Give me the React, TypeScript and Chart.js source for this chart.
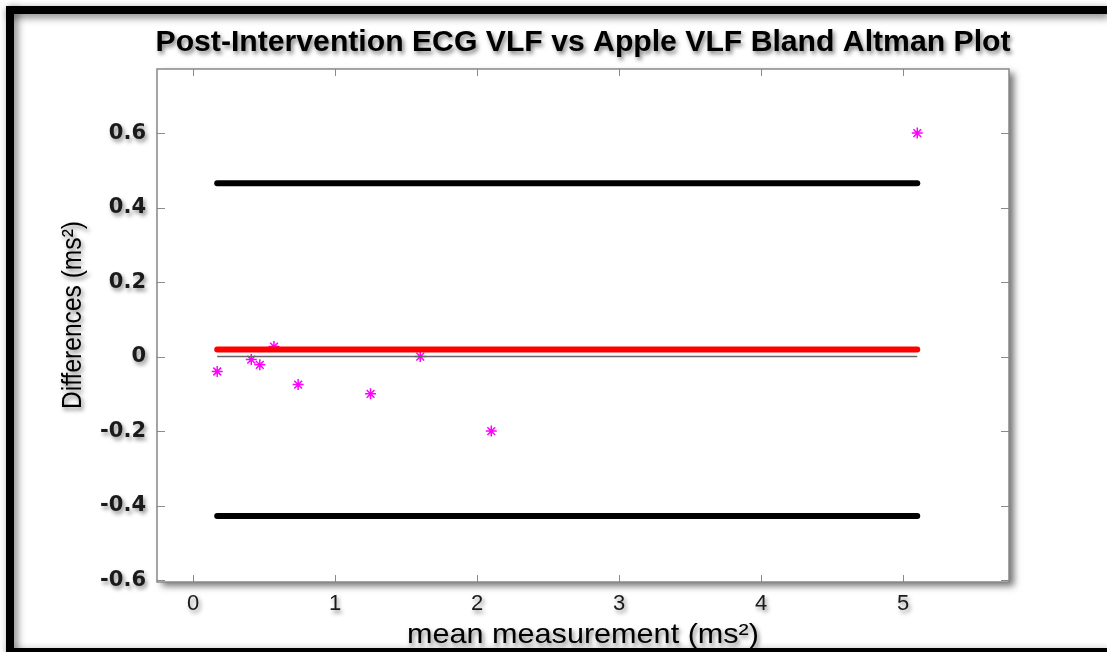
import { useEffect, useRef } from "react";
import { Chart, registerables } from "chart.js";

Chart.register(...registerables);

const W = 1107;
const H = 652;

const titleText = "Post-Intervention ECG VLF vs Apple VLF Bland Altman Plot";
const xAxisTitle = "mean measurement (ms²)";
const yAxisTitle = "Differences (ms²)";

// Bland-Altman points: mean of the two measurements and their difference
const meanValues = [0.17, 0.41, 0.47, 0.57, 0.74, 1.25, 1.6, 2.1, 5.1];
const diffValues = [-0.04, -0.008, -0.022, 0.027, -0.075, -0.1, 0.0, -0.2, 0.6];

// Reference lines (span from smallest to largest mean)
const lineSpan = [0.17, 5.1];
const meanDifference = 0.019;
const upperLimit = 0.465;
const lowerLimit = -0.428;
const zeroLevel = 0;

const xTicks = [0, 1, 2, 3, 4, 5];
const yTicks = [-0.6, -0.4, -0.2, 0, 0.2, 0.4, 0.6];
const xLimits = [-0.254, 5.746];
const yLimits = [-0.605, 0.772];

function fittedText(
  ctx: CanvasRenderingContext2D,
  text: string,
  x: number,
  y: number,
  font: string,
  width: number,
  rotate: boolean
) {
  ctx.save();
  ctx.font = font;
  const w = ctx.measureText(text).width;
  ctx.translate(x, y);
  if (rotate) ctx.rotate(-Math.PI / 2);
  ctx.scale(width / w, 1);
  ctx.textAlign = "center";
  ctx.textBaseline = "alphabetic";
  ctx.fillStyle = "#000";
  ctx.fillText(text, 0, 0);
  ctx.restore();
}

const decorPlugin = {
  id: "decor",
  beforeDraw(chart: any) {
    const ctx: CanvasRenderingContext2D = chart.ctx;
    const { left, right, top, bottom } = chart.chartArea;
    ctx.save();
    ctx.fillStyle = "#fff";
    ctx.fillRect(0, 0, W, H);
    // black picture frame with soft inner shadow
    ctx.shadowColor = "rgba(0,0,0,0.55)";
    ctx.shadowBlur = 8;
    ctx.shadowOffsetX = 3;
    ctx.shadowOffsetY = 3;
    ctx.fillStyle = "#000";
    ctx.fillRect(6, 6, W - 6, 8);
    ctx.fillRect(6, 6, 8, H - 6);
    ctx.fillRect(6, 648, W - 6, 4);
    // plot box with drop shadow
    ctx.shadowColor = "rgba(0,0,0,0.55)";
    ctx.shadowBlur = 7;
    ctx.shadowOffsetX = 5;
    ctx.shadowOffsetY = 4;
    ctx.fillStyle = "#fff";
    ctx.fillRect(left, top, right - left, bottom - top);
    // titles with text shadow
    ctx.shadowColor = "rgba(0,0,0,0.5)";
    ctx.shadowBlur = 4;
    ctx.shadowOffsetX = 2;
    ctx.shadowOffsetY = 3;
    fittedText(ctx, titleText, (left + right) / 2, 51, "bold 29px 'Liberation Sans'", 855, false);
    fittedText(ctx, yAxisTitle, 81, 315, "27px 'Liberation Sans'", 188, true);
    fittedText(ctx, xAxisTitle, (left + right) / 2, 643, "28px 'Liberation Sans'", 352, false);
    ctx.restore();
    // shadow for the tick labels drawn next by the scales
    ctx.shadowColor = "rgba(0,0,0,0.45)";
    ctx.shadowBlur = 4;
    ctx.shadowOffsetX = 2;
    ctx.shadowOffsetY = 3;
  },
  beforeDatasetsDraw(chart: any) {
    const ctx: CanvasRenderingContext2D = chart.ctx;
    ctx.shadowColor = "rgba(0,0,0,0)";
    ctx.shadowBlur = 0;
    ctx.shadowOffsetX = 0;
    ctx.shadowOffsetY = 0;
    const { left, right, top, bottom } = chart.chartArea;
    const xs = chart.scales.x;
    const ys = chart.scales.y;
    ctx.save();
    ctx.strokeStyle = "#8a8a8a";
    ctx.lineWidth = 1;
    ctx.beginPath();
    yTicks.forEach((v) => {
      const py = Math.round(ys.getPixelForValue(v)) + 0.5;
      ctx.moveTo(left, py);
      ctx.lineTo(left + 8, py);
      ctx.moveTo(right, py);
      ctx.lineTo(right - 8, py);
    });
    xTicks.forEach((v) => {
      const px = Math.round(xs.getPixelForValue(v)) + 0.5;
      ctx.moveTo(px, bottom);
      ctx.lineTo(px, bottom - 7);
      ctx.moveTo(px, top);
      ctx.lineTo(px, top + 7);
    });
    ctx.stroke();
    ctx.lineWidth = 1.5;
    ctx.strokeStyle = "#888";
    ctx.strokeRect(left, top, right - left, bottom - top);
    ctx.restore();
  },
};

function spanLine(y: number) {
  return [
    { x: lineSpan[0], y },
    { x: lineSpan[1], y },
  ];
}

export default function App() {
  const ref = useRef<HTMLCanvasElement | null>(null);

  useEffect(() => {
    document.body.style.margin = "0";
    const canvas = ref.current;
    if (!canvas) return;
    const chart = new Chart(canvas, {
      type: "scatter",
      data: {
        datasets: [
          {
            label: "Mean difference",
            data: spanLine(meanDifference),
            showLine: true,
            borderColor: "#ff0000",
            backgroundColor: "#ff0000",
            borderWidth: 6,
            borderCapStyle: "round",
            pointRadius: 0,
          },
          {
            label: "Upper limit",
            data: spanLine(upperLimit),
            showLine: true,
            borderColor: "#000",
            backgroundColor: "#000",
            borderWidth: 6,
            borderCapStyle: "round",
            pointRadius: 0,
          },
          {
            label: "Lower limit",
            data: spanLine(lowerLimit),
            showLine: true,
            borderColor: "#000",
            backgroundColor: "#000",
            borderWidth: 6,
            borderCapStyle: "round",
            pointRadius: 0,
          },
          {
            label: "Zero",
            data: spanLine(zeroLevel),
            showLine: true,
            borderColor: "#666",
            backgroundColor: "#666",
            borderWidth: 1.5,
            pointRadius: 0,
          },
          {
            label: "Differences",
            data: meanValues.map((x, i) => ({ x, y: diffValues[i] })),
            showLine: false,
            pointStyle: "star",
            pointRadius: 5.5,
            borderColor: "#ff00ff",
            backgroundColor: "#ff00ff",
            pointBorderWidth: 1.5,
          },
        ],
      } as any,
      options: {
        animation: false,
        responsive: false,
        devicePixelRatio: 1,
        layout: { padding: { left: 0, right: 98, top: 69, bottom: 0 } },
        plugins: {
          legend: { display: false },
          title: { display: false },
          tooltip: { enabled: false },
        },
        scales: {
          x: {
            type: "linear",
            min: xLimits[0],
            max: xLimits[1],
            grid: { display: false, drawTicks: false },
            border: { display: false },
            afterBuildTicks: (s: any) => {
              s.ticks = xTicks.map((v) => ({ value: v }));
            },
            afterFit: (s: any) => {
              s.height = 70;
            },
            ticks: {
              autoSkip: false,
              maxRotation: 0,
              padding: 9,
              color: "#1a1a1a",
              font: { family: "'Liberation Sans'", size: 22 },
              callback: (v: any) => String(v),
            },
          },
          y: {
            type: "linear",
            min: yLimits[0],
            max: yLimits[1],
            grid: { display: false, drawTicks: false },
            border: { display: false },
            afterBuildTicks: (s: any) => {
              s.ticks = yTicks.map((v) => ({ value: v }));
            },
            afterFit: (s: any) => {
              s.width = 157;
            },
            ticks: {
              autoSkip: false,
              padding: 11,
              color: "#1a1a1a",
              font: { family: "'DejaVu Sans'", size: 21, weight: "bold" },
              callback: (v: any) => String(Math.round(Number(v) * 10) / 10),
            },
          },
        },
      } as any,
      plugins: [decorPlugin as any],
    });
    return () => chart.destroy();
  }, []);

  return (
    <canvas
      ref={ref}
      width={W}
      height={H}
      style={{ display: "block", width: W, height: H }}
    />
  );
}
